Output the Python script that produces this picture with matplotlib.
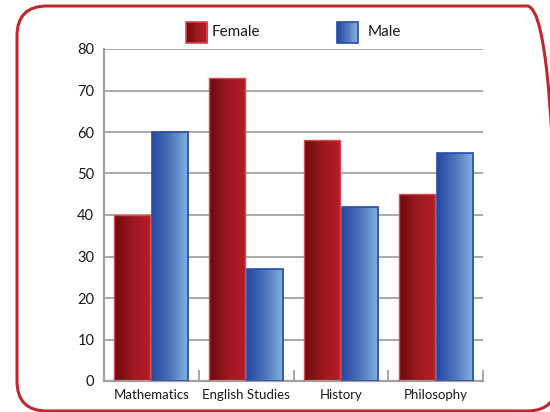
import matplotlib
matplotlib.use("Agg")
import matplotlib.pyplot as plt
import numpy as np
from matplotlib.colors import LinearSegmentedColormap
from matplotlib.patches import FancyBboxPatch, Rectangle
from matplotlib.transforms import IdentityTransform

categories = ["Mathematics", "English Studies", "History", "Philosophy"]
female = [40, 73, 58, 45]
male = [60, 27, 42, 55]
yticks = [0, 10, 20, 30, 40, 50, 60, 70, 80]

plt.rcParams['font.family'] = ['Lato', 'DejaVu Sans']

W, H = 550, 412
red_cmap = LinearSegmentedColormap.from_list("red", ["#6e0a0e", "#9c1820", "#b51e26"])
blue_cmap = LinearSegmentedColormap.from_list("blue", ["#2447a0", "#4f75bd", "#86b4e2"])

fig = plt.figure(figsize=(W / 100, H / 100), dpi=100)
ax = fig.add_axes([104 / W, 1 - 381 / H, (483 - 104) / W, (381 - 49) / H])

x = np.arange(len(categories))
w = 0.38
off = 0.2
bars_f = ax.bar(x - off, female, w, color="none", edgecolor="#d8484e", linewidth=1.0, zorder=3)
bars_m = ax.bar(x + off, male, w, color="none", edgecolor="#2a4aa8", linewidth=1.2, zorder=3)

grad = np.linspace(0, 1, 256).reshape(1, -1)
for bars, cmap in ((bars_f, red_cmap), (bars_m, blue_cmap)):
    for b in bars:
        x0, y0 = b.get_x(), b.get_y()
        im = ax.imshow(grad, cmap=cmap, aspect="auto", zorder=2,
                       extent=(x0, x0 + b.get_width(), y0, y0 + b.get_height()))
        im.set_clip_path(b)

ax.set_xlim(-0.5, len(categories) - 0.5)
ax.set_ylim(0, 80)
ax.set_yticks(yticks)
ax.set_yticklabels([str(t) for t in yticks], fontsize=10.5, color="#1a1a1a")
ax.set_xticks(x)
ax.set_xticklabels(categories, fontsize=9.5, color="#1a1a1a")
ax.tick_params(axis="x", length=0, pad=6)
ax.tick_params(axis="y", length=0, pad=7)
ax.set_xticks(np.arange(len(categories) + 1) - 0.5, minor=True)
ax.tick_params(axis="x", which="minor", direction="in", length=8, width=1.3, color="#a0a0a0")

ax.grid(axis="y", color="#a8a8a8", linewidth=1.4, zorder=0)
ax.set_axisbelow(True)
for s in ["top", "right"]:
    ax.spines[s].set_visible(False)
for s in ["left", "bottom"]:
    ax.spines[s].set_color("#a0a0a0")
    ax.spines[s].set_linewidth(1.6)

# legend: swatches and labels
legend_items = [("Female", red_cmap, "#d8484e", 186, 212),
                ("Male", blue_cmap, "#2a4aa8", 337, 368)]
for label, cmap, edge, sx, tx in legend_items:
    sw = Rectangle((sx / W, 1 - 43 / H), 21 / W, 21 / H, transform=fig.transFigure,
                   facecolor="none", edgecolor=edge, linewidth=1.2, zorder=5)
    fig.add_artist(sw)
    gax = fig.add_axes([sx / W, 1 - 43 / H, 21 / W, 21 / H])
    gax.imshow(grad, cmap=cmap, aspect="auto", extent=(0, 1, 0, 1))
    gax.set_axis_off()
    fig.text(tx / W, 1 - 32 / H, label, fontsize=11, color="#1a1a1a",
             ha="left", va="center")

# rounded frame, laid out in pixels (right edge runs just past the canvas)
left, right, top, bottom = 17, 557, 6, 411
frame = FancyBboxPatch((left, H - bottom), right - left, bottom - top,
                       boxstyle="round,pad=0,rounding_size=30",
                       transform=IdentityTransform(), facecolor="none",
                       edgecolor="#c0262c", linewidth=2.2)
fig.patches.append(frame)

fig.savefig("out.png", dpi=100)
